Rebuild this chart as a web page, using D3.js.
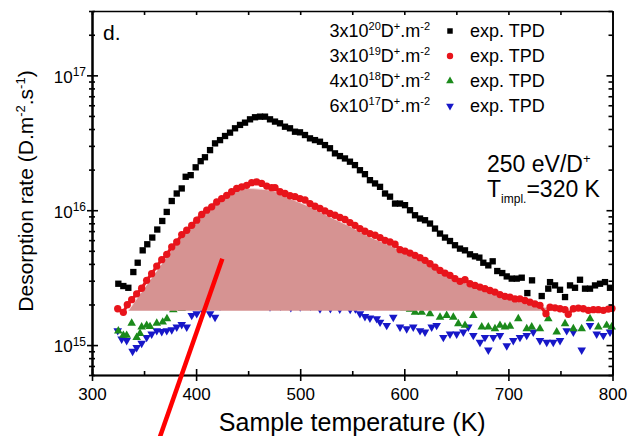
<!DOCTYPE html>
<html>
<head>
<meta charset="utf-8">
<script src="https://cdn.jsdelivr.net/npm/d3@7"></script>
<style>
  body { margin: 0; background: #fff; }
  text { font-family: "Liberation Sans", Arial, sans-serif; fill: #000; }
</style>
</head>
<body>
<div id="chart"></div>
<script>
// TPD spectra, 250 eV/D+, implantation at 320 K  [temperature K, rate D.m-2.s-1]
const fluence3e20 = [[325.3,2.85e15],[330.1,2.74e15],[334.9,2.66e15],[339.7,3.48e15],[343.9,4.08e15],[348.7,5.04e15],[353.1,5.59e15],[357.9,6.27e15],[362.7,7.19e15],[367.5,8.32e15],[371.8,9.71e15],[376.6,1.17e16],[381.4,1.33e16],[386.2,1.45e16],[390.0,1.77e16],[394.8,1.82e16],[399.6,2.08e16],[404.4,2.31e16],[408.5,2.47e16],[413.4,2.79e16],[418.2,3.13e16],[423.0,3.31e16],[427.8,3.55e16],[432.6,3.76e16],[437.4,4.05e16],[442.2,4.29e16],[447.0,4.46e16],[451.8,4.72e16],[456.6,4.89e16],[461.4,4.94e16],[466.2,4.94e16],[471.0,4.72e16],[475.8,4.54e16],[480.6,4.41e16],[485.4,4.16e16],[490.2,4.05e16],[495.0,3.82e16],[499.8,3.78e16],[504.6,3.61e16],[509.4,3.41e16],[514.2,3.31e16],[519.0,3.22e16],[523.8,3.04e16],[528.6,2.88e16],[533.4,2.64e16],[538.2,2.52e16],[543.0,2.42e16],[547.8,2.29e16],[552.6,2.16e16],[557.4,1.98e16],[562.2,1.85e16],[567.0,1.67e16],[571.9,1.58e16],[576.7,1.49e16],[581.5,1.33e16],[586.3,1.26e16],[591.1,1.12e16],[595.9,1.12e16],[600.7,1.09e16],[605.5,1.0e16],[610.3,9.18e15],[615.1,8.67e15],[619.9,8.43e15],[624.7,7.96e15],[629.5,7.31e15],[634.3,6.71e15],[639.1,6.27e15],[643.9,5.91e15],[648.7,5.50e15],[653.5,5.19e15],[658.3,5.04e15],[663.1,4.71e15],[667.9,4.55e15],[672.1,4.45e15],[675.9,4.08e15],[680.7,3.90e15],[684.9,4.18e15],[689.3,3.54e15],[694.1,3.42e15],[698.4,3.23e15],[703.2,3.11e15],[708.0,3.11e15],[712.8,3.16e15],[718.2,2.43e15],[722.7,3.02e15],[732.0,2.31e15],[738.3,2.62e15],[740.0,2.93e15],[744.8,2.77e15],[749.6,2.57e15],[754.4,2.27e15],[759.2,2.77e15],[764.0,2.66e15],[768.8,3.05e15],[773.6,2.62e15],[778.4,2.62e15],[783.2,2.77e15],[788.0,2.85e15],[792.8,2.93e15],[797.6,2.66e15]]

const fluence3e19 = [[324.7,1.86e15],[330.1,1.75e15],[333.9,1.99e15],[338.1,2.17e15],[342.9,2.40e15],[347.7,2.64e15],[352.5,3.02e15],[357.3,3.38e15],[362.2,3.85e15],[367.0,4.30e15],[371.8,4.71e15],[376.6,5.34e15],[381.4,5.81e15],[386.2,6.60e15],[391.0,7.10e15],[395.8,7.73e15],[400.6,8.43e15],[405.4,9.29e15],[410.2,1.00e16],[415.0,1.06e16],[419.8,1.15e16],[424.6,1.22e16],[429.4,1.29e16],[434.2,1.37e16],[439.0,1.45e16],[443.8,1.49e16],[448.6,1.53e16],[453.4,1.60e16],[458.2,1.62e16],[463.0,1.58e16],[467.8,1.51e16],[472.6,1.47e16],[475.8,1.47e16],[480.6,1.37e16],[485.4,1.33e16],[490.2,1.28e16],[495.0,1.26e16],[499.8,1.22e16],[504.6,1.19e16],[509.4,1.12e16],[514.2,1.07e16],[519.0,1.03e16],[523.8,9.88e15],[528.6,9.45e15],[533.4,9.18e15],[538.2,8.83e15],[543.0,8.53e15],[547.8,8.10e15],[552.6,7.73e15],[557.4,7.31e15],[562.2,6.98e15],[567.0,6.71e15],[571.9,6.52e15],[576.7,6.27e15],[581.5,5.98e15],[586.3,5.81e15],[591.1,5.59e15],[595.9,5.10e15],[600.7,4.98e15],[605.5,4.81e15],[610.3,4.63e15],[615.1,4.45e15],[619.9,4.25e15],[624.7,4.01e15],[629.5,3.79e15],[634.3,3.58e15],[639.1,3.42e15],[643.9,3.29e15],[648.7,3.11e15],[653.5,2.97e15],[658.3,3.05e15],[663.1,2.85e15],[667.9,2.77e15],[672.7,2.69e15],[677.5,2.62e15],[682.3,2.54e15],[687.1,2.47e15],[691.9,2.37e15],[696.7,2.30e15],[701.5,2.27e15],[706.3,2.20e15],[711.1,2.20e15],[715.9,2.14e15],[720.7,2.08e15],[725.5,2.02e15],[730.3,1.97e15],[736.1,1.71e15],[740.0,1.91e15],[744.8,1.89e15],[749.6,1.86e15],[754.4,1.83e15],[757.5,1.69e15],[762.4,1.86e15],[767.2,1.88e15],[772.0,1.86e15],[776.8,1.81e15],[781.6,1.83e15],[786.4,1.83e15],[791.2,1.81e15],[796.0,1.85e15],[799.5,1.87e15]]

const fluence4e18 = [[325.3,1.27e15],[330.1,1.18e15],[333.3,1.18e15],[338.1,1.45e15],[342.9,1.14e15],[346.1,1.22e15],[347.7,1.36e15],[352.5,1.40e15],[355.7,1.37e15],[362.2,1.45e15],[367.9,1.48e15],[372.0,1.57e15],[378.1,1.83e15],[386.2,1.87e15],[391.0,1.95e15],[396.0,1.90e15],[401.0,2.00e15],[405.0,1.92e15],[410.0,2.05e15],[420.0,2.10e15],[440.0,2.15e15],[460.0,2.05e15],[480.0,2.10e15],[500.0,2.00e15],[520.0,2.05e15],[540.0,1.95e15],[560.0,2.00e15],[580.0,1.92e15],[600.0,1.88e15],[605.5,1.84e15],[610.3,1.75e15],[616.7,1.75e15],[624.7,1.71e15],[634.3,1.61e15],[640.7,1.66e15],[647.1,1.61e15],[651.9,1.44e15],[658.3,1.40e15],[666.3,1.66e15],[674.4,1.36e15],[680.7,1.36e15],[687.1,1.32e15],[691.9,1.40e15],[696.7,1.36e15],[701.5,1.38e15],[709.5,1.57e15],[717.6,1.32e15],[722.4,1.36e15],[730.3,1.32e15],[738.3,1.57e15],[746.4,1.25e15],[754.4,1.44e15],[762.4,1.32e15],[770.4,1.32e15],[778.4,1.57e15],[786.4,1.36e15],[794.4,1.40e15],[799.2,1.36e15]]

const fluence6e17 = [[324.7,1.28e15],[328.5,1.11e15],[333.3,1.08e15],[339.0,0.90e15],[342.9,0.96e15],[347.7,1.03e15],[352.5,1.14e15],[357.3,1.21e15],[362.2,1.28e15],[367.0,1.26e15],[371.8,1.28e15],[376.6,1.30e15],[381.4,1.36e15],[386.2,1.42e15],[391.0,1.36e15],[395.8,1.66e15],[400.6,1.71e15],[405.4,1.87e15],[413.4,1.71e15],[418.2,1.61e15],[423.0,1.95e15],[433.0,2.05e15],[442.0,2.10e15],[452.0,2.08e15],[462.0,2.05e15],[471.0,1.92e15],[481.0,1.95e15],[491.0,1.90e15],[500.0,1.92e15],[510.0,1.95e15],[519.0,1.86e15],[529.0,1.87e15],[538.0,1.85e15],[548.0,1.84e15],[553.0,1.86e15],[557.4,1.71e15],[562.2,1.63e15],[567.0,1.59e15],[573.5,1.57e15],[576.7,1.48e15],[583.1,1.40e15],[589.4,1.61e15],[595.9,1.36e15],[602.3,1.32e15],[608.6,1.36e15],[615.1,1.28e15],[619.9,1.25e15],[626.3,1.36e15],[631.1,1.40e15],[637.5,1.14e15],[643.9,1.21e15],[650.3,1.21e15],[656.7,1.25e15],[661.5,1.36e15],[666.3,1.18e15],[672.7,1.05e15],[677.5,1.14e15],[680.7,0.92e15],[685.5,1.14e15],[691.9,1.18e15],[698.4,0.99e15],[704.7,1.08e15],[711.1,1.14e15],[717.6,1.18e15],[723.9,1.25e15],[730.3,1.08e15],[736.8,1.05e15],[743.1,1.05e15],[749.6,1.08e15],[756.0,1.28e15],[762.4,1.25e15],[770.4,0.92e15],[778.4,1.40e15],[784.8,1.21e15],[791.2,1.18e15],[797.6,1.25e15]]

// shaded desorption peak above the background level
const peakBaseline = 1.8e15
const peakCurve = [[334.9,1.8e15],[350.9,2.69e15],[367.0,4.01e15],[382.9,5.98e15],[398.9,8.67e15],[415.0,1.12e16],[430.9,1.33e16],[447.0,1.45e16],[463.0,1.43e16],[472.9,1.40e16],[490.2,1.22e16],[509.4,1.06e16],[528.6,8.91e15],[547.8,7.60e15],[567.0,6.33e15],[586.3,5.50e15],[605.5,4.63e15],[624.7,4.01e15],[643.9,3.40e15],[653.5,3.01e15],[672.7,2.63e15],[691.9,2.29e15],[711.1,2.08e15],[730.3,1.93e15],[749.6,1.85e15],[768.8,1.81e15],[788.0,1.80e15],[800,1.80e15]]

// red pointer drawn over the figure
const pointer = [[425.2,4.37e15],[365.3,2.09e14]]

const legendMantissa = ["3","3","4","6"]
const legendExponent = ["20","19","18","17"]
const xMajor = [300,400,500,600,700,800]
const xMinor = [350,450,550,650,750]
const yMajor = [1e15,1e16,1e17]

const WIDTH = 629, HEIGHT = 436
const PLOT = {LEFT:92, RIGHT:612.5, TOP:11, BOTTOM:375}

const x = d3.scaleLinear().domain([300,800]).range([PLOT.LEFT, PLOT.RIGHT])
const y = d3.scaleLog().domain([6e14,3e17]).range([PLOT.BOTTOM, PLOT.TOP])
const yMinor = y.ticks().filter(v => !yMajor.includes(v))

const svg = d3.select("#chart").append("svg")
    .attr("width", WIDTH)
    .attr("height", HEIGHT)

// series styles
const series = [
    {data: fluence6e17, colour: "#1717c8", symbol: d3.symbolTriangle, size: 32, rot: 180},
    {data: fluence4e18, colour: "#1b8a1b", symbol: d3.symbolTriangle, size: 32, rot: 0},
]
const drawPoints = (s) => svg.append("g").selectAll("path")
    .data(s.data).enter().append("path")
    .attr("d", d3.symbol().type(s.symbol).size(s.size))
    .attr("transform", d => `translate(${x(d[0])},${y(d[1])}) rotate(${s.rot})`)
    .attr("fill", s.colour)
series.forEach(drawPoints)

// shaded peak
const area = d3.area()
    .x(d => x(d[0]))
    .y0(y(peakBaseline))
    .y1(d => y(d[1]))
    .curve(d3.curveMonotoneX)
svg.append("path").datum(peakCurve).attr("d", area).attr("fill", "#d69392")
svg.append("path").datum(peakCurve)
    .attr("d", d3.line().x(d => x(d[0])).y(d => y(d[1])).curve(d3.curveMonotoneX))
    .attr("fill", "none").attr("stroke", "#f4dede").attr("stroke-width", 1)

// 3e19 series: dense red circles
svg.append("path").datum(fluence3e19)
    .attr("d", d3.line().x(d => x(d[0])).y(d => y(d[1])))
    .attr("fill", "none").attr("stroke", "#e8141b").attr("stroke-width", 3)
drawPoints({data: fluence3e19, colour: "#e8141b", symbol: d3.symbolCircle, size: 42, rot: 0})
drawPoints({data: fluence3e20, colour: "#000", symbol: d3.symbolSquare, size: 40, rot: 0})

// axes: frame with crossing/inward ticks
function styleAxis(g) {
    g.selectAll("path, line").attr("stroke", "#000").attr("stroke-width", 1.6)
    g.selectAll("text").attr("font-size", 17).attr("fill", "#000")
        .attr("font-family", '"Liberation Sans", Arial, sans-serif')
}
const axisG = svg.append("g")
axisG.append("g").attr("transform", `translate(0,${PLOT.BOTTOM})`)
    .call(d3.axisBottom(x).tickValues(xMajor).tickSizeInner(6).tickSizeOuter(0).tickPadding(7))
    .call(styleAxis)
axisG.append("g").attr("transform", `translate(0,${PLOT.BOTTOM})`)
    .call(d3.axisBottom(x).tickValues(xMajor).tickSizeInner(-6).tickSizeOuter(0).tickFormat(""))
    .call(styleAxis)
axisG.append("g").attr("transform", `translate(0,${PLOT.BOTTOM})`)
    .call(d3.axisBottom(x).tickValues(xMinor).tickSizeInner(-4).tickSizeOuter(0).tickFormat(""))
    .call(styleAxis)
axisG.append("g").attr("transform", `translate(0,${PLOT.TOP})`)
    .call(d3.axisTop(x).tickValues(xMajor.concat(xMinor)).tickSizeInner(-4).tickSizeOuter(0).tickFormat(""))
    .call(styleAxis)

const yLeft = axisG.append("g").attr("transform", `translate(${PLOT.LEFT},0)`)
    .call(d3.axisLeft(y).tickValues(yMajor).tickSizeInner(5).tickSizeOuter(0).tickPadding(1)
        .tickFormat(""))
    .call(styleAxis)
yLeft.selectAll(".tick text").each(function(d) {
    const t = d3.select(this).attr("dy", "0.4em")
    t.append("tspan").text("10")
    t.append("tspan").attr("font-size", 12).attr("dy", "-0.55em").text(Math.round(Math.log10(d)))
})
axisG.append("g").attr("transform", `translate(${PLOT.LEFT},0)`)
    .call(d3.axisLeft(y).tickValues(yMajor).tickSizeInner(-6).tickSizeOuter(0).tickFormat(""))
    .call(styleAxis)
axisG.append("g").attr("transform", `translate(${PLOT.LEFT},0)`)
    .call(d3.axisLeft(y).tickValues(yMinor).tickSizeInner(3).tickSizeOuter(0).tickFormat(""))
    .call(styleAxis)
axisG.append("g").attr("transform", `translate(${PLOT.LEFT},0)`)
    .call(d3.axisLeft(y).tickValues(yMinor).tickSizeInner(-3).tickSizeOuter(0).tickFormat(""))
    .call(styleAxis)
axisG.append("g").attr("transform", `translate(${PLOT.RIGHT},0)`)
    .call(d3.axisRight(y).tickValues(yMajor).tickSizeInner(-6).tickSizeOuter(0).tickFormat(""))
    .call(styleAxis)
axisG.append("g").attr("transform", `translate(${PLOT.RIGHT},0)`)
    .call(d3.axisRight(y).tickValues(yMinor).tickSizeInner(-4).tickSizeOuter(0).tickFormat(""))
    .call(styleAxis)

// axis titles
svg.append("text")
    .attr("x", (PLOT.LEFT + PLOT.RIGHT) / 2).attr("y", 431)
    .attr("text-anchor", "middle").attr("font-size", 25)
    .text("Sample temperature (K)")
const yTitle = svg.append("text")
    .attr("transform", `translate(33,${(PLOT.TOP + PLOT.BOTTOM) / 2 - 2}) rotate(-90)`)
    .attr("text-anchor", "middle").attr("font-size", 21)
yTitle.append("tspan").text("Desorption rate (D.m")
yTitle.append("tspan").attr("font-size", 13).attr("dy", -8).text("-2")
yTitle.append("tspan").attr("dy", 8).text(".s")
yTitle.append("tspan").attr("font-size", 13).attr("dy", -8).text("-1")
yTitle.append("tspan").attr("dy", 8).text(")")

// panel letter
svg.append("text").attr("x", 103).attr("y", 40).attr("font-size", 21).text("d.")

// legend
const legendSymbols = [
    {symbol: d3.symbolSquare, colour: "#000", size: 30, rot: 0},
    {symbol: d3.symbolCircle, colour: "#e8141b", size: 32, rot: 0},
    {symbol: d3.symbolTriangle, colour: "#1b8a1b", size: 26, rot: 0},
    {symbol: d3.symbolTriangle, colour: "#1717c8", size: 26, rot: 180},
]
const legend = svg.append("g")
legendMantissa.forEach((m, i) => {
    const base = 37 + i * 25
    const t = legend.append("text").attr("x", 430).attr("y", base)
        .attr("text-anchor", "end").attr("font-size", 18)
    t.append("tspan").text(m + "x10")
    t.append("tspan").attr("font-size", 11).attr("dy", -7).text(legendExponent[i])
    t.append("tspan").attr("dy", 7).text("D")
    t.append("tspan").attr("font-size", 11).attr("dy", -7).text("+")
    t.append("tspan").attr("dy", 7).text(".m")
    t.append("tspan").attr("font-size", 11).attr("dy", -7).text("-2")
    const s = legendSymbols[i]
    legend.append("path")
        .attr("d", d3.symbol().type(s.symbol).size(s.size))
        .attr("transform", `translate(450,${base - 6}) rotate(${s.rot})`)
        .attr("fill", s.colour)
    legend.append("text").attr("x", 470).attr("y", base).attr("font-size", 18).text("exp. TPD")
})

// conditions
const cond1 = svg.append("text").attr("x", 487).attr("y", 172).attr("font-size", 23)
cond1.append("tspan").text("250 eV/D")
cond1.append("tspan").attr("font-size", 13).attr("dy", -9).text("+")
const cond2 = svg.append("text").attr("x", 487).attr("y", 197).attr("font-size", 23)
cond2.append("tspan").text("T")
cond2.append("tspan").attr("font-size", 12).attr("dy", 6).text("impl.")
cond2.append("tspan").attr("dy", -6).text("=320 K")

// red pointer line
svg.append("path").datum(pointer)
    .attr("d", d3.line().x(d => x(d[0])).y(d => y(d[1])))
    .attr("stroke", "#ff0000").attr("stroke-width", 4.5).attr("fill", "none")
</script>
</body>
</html>
